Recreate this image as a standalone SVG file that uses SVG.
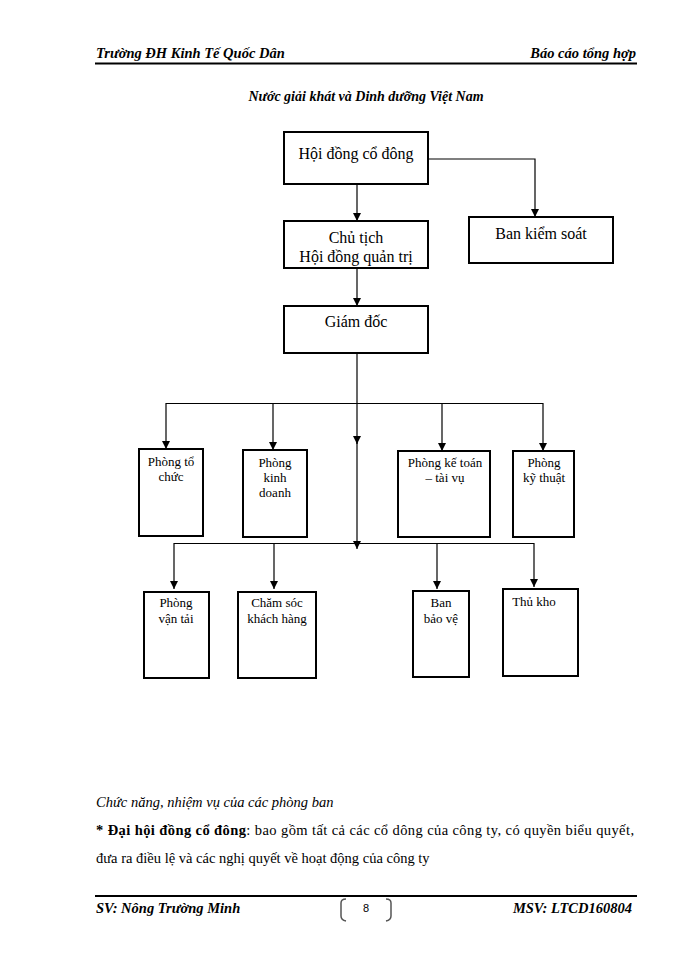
<svg xmlns="http://www.w3.org/2000/svg" width="700" height="960" viewBox="0 0 700 960">
<defs>
<marker id="arr" markerWidth="8" markerHeight="8" refX="8" refY="4" orient="auto" markerUnits="userSpaceOnUse" viewBox="0 0 8 8">
<path d="M0,0 L8,4 L0,8 Z" fill="#000"/>
</marker>
</defs>
<style>
.box{fill:#fff;stroke:#000;stroke-width:2}
.ln{fill:none;stroke:#000;stroke-width:1.2}
.t16{font-family:"Liberation Serif",serif;font-size:16px;fill:#000;text-anchor:middle}
.t13{font-family:"Liberation Serif",serif;font-size:13px;fill:#000;text-anchor:middle}
.hd{font-family:"Liberation Serif",serif;font-size:14.5px;font-style:italic;font-weight:bold;fill:#000}
.body{font-family:"Liberation Serif",serif;font-size:14.5px;fill:#000}
</style>
<rect width="700" height="960" fill="#fff"/>

<g id="header">
<text class="hd" x="96" y="58">Trường ĐH Kinh Tế Quốc Dân</text>
<text class="hd" x="636" y="58" text-anchor="end">Báo cáo tổng hợp</text>
<line x1="95" y1="63.5" x2="637" y2="63.5" stroke="#000" stroke-width="2.2"/>
<text x="366" y="101" font-family="Liberation Serif, serif" font-size="14" font-style="italic" font-weight="bold" text-anchor="middle">Nước giải khát và Dinh dưỡng Việt Nam</text>
</g>

<g id="connectors">
<line class="ln" x1="357" y1="184" x2="357" y2="221" marker-end="url(#arr)"/>
<polyline class="ln" points="428,159 535,159 535,217" marker-end="url(#arr)"/>
<line class="ln" x1="357" y1="262" x2="357" y2="306" marker-end="url(#arr)"/>
<line class="ln" x1="357" y1="353" x2="357" y2="444" marker-end="url(#arr)"/>
<line class="ln" x1="357" y1="440" x2="357" y2="549" marker-end="url(#arr)"/>
<line class="ln" x1="166" y1="403.5" x2="543" y2="403.5"/>
<line class="ln" x1="166" y1="403" x2="166" y2="449" marker-end="url(#arr)"/>
<line class="ln" x1="273" y1="403" x2="273" y2="450" marker-end="url(#arr)"/>
<line class="ln" x1="442" y1="403" x2="442" y2="451" marker-end="url(#arr)"/>
<line class="ln" x1="543" y1="403" x2="543" y2="451" marker-end="url(#arr)"/>
<line class="ln" x1="174" y1="543.5" x2="534" y2="543.5"/>
<line class="ln" x1="174" y1="543" x2="174" y2="589" marker-end="url(#arr)"/>
<line class="ln" x1="274" y1="543" x2="274" y2="589" marker-end="url(#arr)"/>
<line class="ln" x1="437" y1="543" x2="437" y2="589" marker-end="url(#arr)"/>
<line class="ln" x1="534" y1="543" x2="534" y2="587" marker-end="url(#arr)"/>
</g>

<g id="hoi-dong-co-dong">
<rect class="box" x="284" y="132" width="144" height="52"/>
<text class="t16" x="356" y="159">Hội đồng cổ đông</text>
</g>
<g id="ban-kiem-soat">
<rect class="box" x="469" y="217" width="144" height="46"/>
<text class="t16" x="541" y="239">Ban kiểm soát</text>
</g>
<g id="chu-tich">
<rect class="box" x="284" y="221" width="144" height="47"/>
<text class="t16" x="356" y="243">Chủ tịch</text>
<text class="t16" x="356" y="262">Hội đồng quản trị</text>
</g>
<g id="giam-doc">
<rect class="box" x="284" y="306" width="144" height="47"/>
<text class="t16" x="356" y="327">Giám đốc</text>
</g>

<g id="phong-to-chuc">
<rect class="box" x="139" y="449" width="64" height="87"/>
<text class="t13" x="171" y="466">Phòng tổ</text>
<text class="t13" x="171" y="481">chức</text>
</g>
<g id="phong-kinh-doanh">
<rect class="box" x="243" y="450" width="64" height="87"/>
<text class="t13" x="275" y="467">Phòng</text>
<text class="t13" x="275" y="482">kinh</text>
<text class="t13" x="275" y="497">doanh</text>
</g>
<g id="phong-ke-toan">
<rect class="box" x="398" y="451" width="92" height="86"/>
<text class="t13" x="445" y="467">Phòng kế toán</text>
<text class="t13" x="445" y="482">– tài vụ</text>
</g>
<g id="phong-ky-thuat">
<rect class="box" x="513" y="451" width="61" height="86"/>
<text class="t13" x="544" y="467">Phòng</text>
<text class="t13" x="544" y="482">kỹ thuật</text>
</g>

<g id="phong-van-tai">
<rect class="box" x="144" y="592" width="65" height="86"/>
<text class="t13" x="176" y="607">Phòng</text>
<text class="t13" x="176" y="623">vận tải</text>
</g>
<g id="cham-soc-khach-hang">
<rect class="box" x="238" y="592" width="78" height="86"/>
<text class="t13" x="277" y="607">Chăm sóc</text>
<text class="t13" x="277" y="623">khách hàng</text>
</g>
<g id="ban-bao-ve">
<rect class="box" x="413" y="591" width="56" height="86"/>
<text class="t13" x="441" y="607">Ban</text>
<text class="t13" x="441" y="623">bảo vệ</text>
</g>
<g id="thu-kho">
<rect class="box" x="503" y="589" width="75" height="87"/>
<text class="t13" x="534" y="606">Thủ kho</text>
</g>

<g id="body-text">
<text class="body" x="96" y="807" font-style="italic">Chức năng, nhiệm vụ của các phòng ban</text>
<text class="body" x="96" y="835" textLength="538" lengthAdjust="spacing"><tspan font-weight="bold">* Đại hội đồng cổ đông</tspan>: bao gồm tất cả các cổ dông của công ty, có quyền biểu quyết,</text>
<text class="body" x="96" y="863">đưa ra điều lệ và các nghị quyết về hoạt động của công ty</text>
</g>

<g id="footer">
<line x1="95" y1="896" x2="637" y2="896" stroke="#000" stroke-width="1.8"/>
<text class="hd" x="96" y="913">SV: Nông Trường Minh</text>
<text class="hd" x="632" y="913" text-anchor="end">MSV: LTCD160804</text>
<path d="M346,899 Q341,899 341,903 L341,916 Q341,920 346,921" fill="none" stroke="#555" stroke-width="1.5"/>
<path d="M386,899 Q391,899 391,903 L391,916 Q391,920 386,921" fill="none" stroke="#555" stroke-width="1.5"/>
<text x="366" y="912" font-family="Liberation Sans, sans-serif" font-size="11" text-anchor="middle">8</text>
</g>
</svg>
